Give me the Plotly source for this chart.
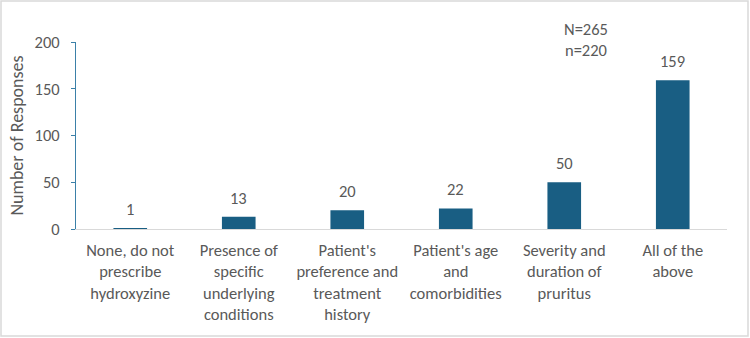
import plotly.graph_objects as go

categories = [
    "None, do not<br>prescribe<br>hydroxyzine",
    "Presence of<br>specific<br>underlying<br>conditions",
    "Patient's<br>preference and<br>treatment<br>history",
    "Patient's age<br>and<br>comorbidities",
    "Severity and<br>duration of<br>pruritus",
    "All of the<br>above",
]
values = [1, 13, 20, 22, 50, 159]
y_ticks = [0, 50, 100, 150, 200]

W, H = 750, 338
L, R, T, B = 76, 23, 42, 109
pw, ph = W - L - R, H - T - B

font_family = "Carlito, Calibri, Lato, sans-serif"
text_col = "#595959"
fs = 16.5

fig = go.Figure(go.Bar(
    x=categories, y=values,
    marker=dict(color="#195E83", line=dict(width=0)),
    hoverinfo="x+y",
))

value_labels = [
    dict(x=c, y=v, text=str(v), xref="x", yref="y", showarrow=False,
         yanchor="bottom", xanchor="center", yshift=7,
         font=dict(size=fs, color=text_col, family=font_family))
    for c, v in zip(categories, values)
]

fig.update_layout(
    width=W, height=H,
    margin=dict(l=L, r=R, t=T, b=B),
    paper_bgcolor="white", plot_bgcolor="white",
    bargap=0.69,
    showlegend=False,
    font=dict(family=font_family, color=text_col, size=fs),
    xaxis=dict(
        showgrid=False, showline=True, linecolor="#d9d9d9", linewidth=1,
        ticks="", tickfont=dict(size=fs, color=text_col),
        ticklabelstandoff=6,
    ),
    yaxis=dict(
        range=[0, 200], tickvals=y_ticks, showgrid=False,
        showline=True, linecolor="#3b80a8", linewidth=1,
        ticks="outside", ticklen=4, tickcolor="#3b80a8",
        ticklabelstandoff=8,
        tickfont=dict(size=fs, color=text_col),
        title=dict(text="Number of Responses", font=dict(size=18, color=text_col), standoff=6),
        zeroline=False,
    ),
    annotations=value_labels + [
        dict(text="N=265<br>n=220", xref="paper", yref="paper",
             x=(586 - L) / pw, y=1 + (T - 17) / ph, xanchor="center", yanchor="top",
             showarrow=False, align="center",
             font=dict(size=fs, color=text_col, family=font_family)),
    ],
    shapes=[
        dict(type="rect", xref="paper", yref="paper",
             x0=(1 - L) / pw, x1=(W - 2 - L) / pw,
             y0=-(B - 2) / ph, y1=1 + (T - 1) / ph,
             line=dict(color="#d9d9d9", width=1.5), fillcolor="rgba(0,0,0,0)"),
    ],
)

fig.write_html("out.html")
